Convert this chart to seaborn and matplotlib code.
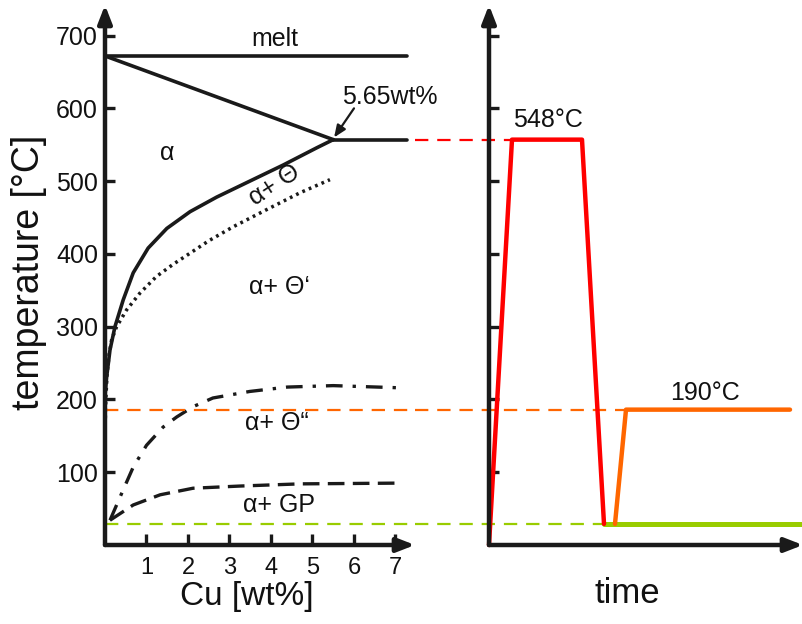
import matplotlib
matplotlib.use("Agg")
import matplotlib.pyplot as plt
import seaborn as sns

# ---------------- data ----------------
temp_ticks = [100, 200, 300, 400, 500, 600, 700]
cu_ticks = [1, 2, 3, 4, 5, 6, 7]

melt_cu = [0.0, 7.27]
melt_T = [672, 672]
solidus_cu = [0.0, 5.5]
solidus_T = [672, 557]
eutectic_cu = [5.5, 7.27]
eutectic_T = [557, 557]

solvus_cu = [0.0, 0.04, 0.12, 0.24, 0.44, 0.68, 1.04, 1.49, 2.05, 2.69, 3.49, 4.29, 5.11, 5.5]
solvus_T = [205, 231, 268, 300, 337, 374, 408, 435, 458, 478, 500, 522, 546, 557]

theta1_cu = [0.0, 0.02, 0.05, 0.1, 0.16, 0.28, 0.52, 0.84, 1.24, 1.65, 2.05, 2.5, 3.08, 3.9, 4.7, 5.42]
theta1_T = [155, 200, 235, 262, 282, 300, 323, 346, 369, 386, 401, 418, 437, 461, 484, 502]

theta2_cu = [0.12, 0.44, 0.68, 1.0, 1.4, 1.73, 2.12, 2.6, 3.49, 4.39, 5.5, 7.1]
theta2_T = [34, 76, 107, 137, 162, 176, 190, 202, 211, 217, 219, 216]

gp_cu = [0.12, 0.68, 1.33, 2.12, 3.25, 4.7, 7.0]
gp_T = [34, 55, 69, 78, 81, 84, 85]

# heat treatment (time in arbitrary units)
solution_t = [0.0, 2.3, 9.3, 11.5]
solution_T = [0, 557, 557, 29]
room_t = [11.5, 31.3]
room_T = [29, 29]
aging_t = [12.6, 13.7, 30.1]
aging_T = [29, 186, 186]

T_solution = 557
T_aging = 186
T_room = 29

RED = "#ff0000"
ORANGE = "#ff6600"
GREEN = "#99cc00"

# ---------------- style ----------------
sns.set_theme(style="white")
plt.rcParams["font.family"] = ["Liberation Sans", "DejaVu Sans"]

fig = plt.figure(figsize=(8.03, 6.24), dpi=100)
W, H = 803, 624
bottom_px, top_px = 545, 5
ax1 = fig.add_axes([105 / W, (H - bottom_px) / H, (415 - 105) / W, (bottom_px - top_px) / H])
ax2 = fig.add_axes([489 / W, (H - bottom_px) / H, (803 - 489) / W, (bottom_px - top_px) / H])

for ax in (ax1, ax2):
    ax.set_facecolor("none")
    ax.set_ylim(0, 742)
    for s in ax.spines.values():
        s.set_visible(False)
    ax.grid(False)

ax1.set_xlim(0, 7.47)
ax2.set_xlim(0, 31.4)

# axes arrows
arrow_kw = dict(arrowstyle="-|>,head_length=0.9,head_width=0.35", lw=3.2,
                color="k", shrinkA=0, shrinkB=0)
for ax in (ax1, ax2):
    ax.annotate("", xy=(0, 1), xytext=(0, 0), xycoords="axes fraction",
                arrowprops=arrow_kw, annotation_clip=False)
    ax.annotate("", xy=(1, 0), xytext=(0, 0), xycoords="axes fraction",
                arrowprops=arrow_kw, annotation_clip=False)

# ticks
ax1.set_yticks(temp_ticks)
ax1.set_yticklabels([str(v) for v in temp_ticks])
ax1.set_xticks(cu_ticks)
ax1.set_xticklabels([str(v) for v in cu_ticks])
ax1.tick_params(axis="y", direction="in", length=7, width=2.4, labelsize=18,
                pad=5, left=True, colors="k", labelcolor="#111111")
ax1.tick_params(axis="x", direction="in", length=8, width=2.4, labelsize=17,
                pad=9, bottom=True, colors="k", labelcolor="#111111")

ax2.set_yticks(temp_ticks)
ax2.set_yticklabels([])
ax2.set_xticks([])
ax2.tick_params(axis="y", direction="in", length=7, width=2.4, left=True, colors="k")

# ---------------- phase diagram ----------------
def draw(ax, x, y, **kw):
    sns.lineplot(x=x, y=y, ax=ax, sort=False, estimator=None, **kw)

draw(ax1, melt_cu, melt_T, color="k", lw=2.6)
draw(ax1, solidus_cu, solidus_T, color="k", lw=2.6)
draw(ax1, eutectic_cu, eutectic_T, color="k", lw=2.6)
draw(ax1, solvus_cu, solvus_T, color="k", lw=2.6)
draw(ax1, theta1_cu, theta1_T, color="k", lw=2.5, linestyle=(0, (0.8, 1.2)))
draw(ax1, theta2_cu, theta2_T, color="k", lw=2.4, linestyle=(0, (5, 3, 1, 3)))
draw(ax1, gp_cu, gp_T, color="k", lw=2.4, linestyle=(0, (5, 2.5)))

txt_kw = dict(fontsize=18, color="#111111", ha="center", va="center")
ax1.text(4.1, 695, "melt", **txt_kw)
ax1.text(6.87, 615, "5.65wt%", **txt_kw)
ax1.annotate("", xy=(5.52, 560), xytext=(6.0, 600),
             arrowprops=dict(arrowstyle="-|>,head_length=0.6,head_width=0.25",
                             lw=1.6, color="k", shrinkA=0, shrinkB=0))
ax1.text(1.49, 539, "α", **txt_kw)
ax1.text(4.08, 495, "α+ Θ", rotation=33, rotation_mode="anchor", **txt_kw)
ax1.text(4.2, 355, "α+ Θ‘", **txt_kw)
ax1.text(4.14, 168, "α+ Θ“", **txt_kw)
ax1.text(4.2, 55, "α+ GP", **txt_kw)

ax1.text(0.458, -0.096, "Cu [wt%]", transform=ax1.transAxes, fontsize=24,
         ha="center", va="center", color="#111111")
ax1.text(-0.245, 0.505, "temperature [°C]", transform=ax1.transAxes, fontsize=27,
         rotation=90, ha="center", va="center", color="#111111")

# ---------------- heat treatment ----------------
dash = (0, (6, 4))
ax1.plot([0, 7.47], [T_aging, T_aging], color=ORANGE, lw=1.6, linestyle=dash)
ax1.plot([0, 7.47], [T_room, T_room], color=GREEN, lw=1.6, linestyle=dash)
ax2.plot([-7.4, 13.7], [T_aging, T_aging], color=ORANGE, lw=1.6, linestyle=dash, clip_on=False)
ax2.plot([-7.4, 11.5], [T_room, T_room], color=GREEN, lw=1.6, linestyle=dash, clip_on=False)
ax2.plot([-7.4, 2.3], [T_solution, T_solution], color=RED, lw=1.6, linestyle=dash, clip_on=False)

draw(ax2, room_t, room_T, color=GREEN, lw=3.6)
draw(ax2, aging_t, aging_T, color=ORANGE, lw=3.2)
draw(ax2, solution_t, solution_T, color=RED, lw=3.2)
for ln in ax2.get_lines():
    ln.set_clip_on(False)

ax2.text(5.9, 584, "548°C", **txt_kw)
ax2.text(21.6, 209, "190°C", **txt_kw)
ax2.text(0.44, -0.09, "time", transform=ax2.transAxes, fontsize=25,
         ha="center", va="center", color="#111111")

for ax in (ax1, ax2):
    ax.set_xlabel("")
    ax.set_ylabel("")
    if ax.get_legend():
        ax.get_legend().remove()

fig.savefig("out.png", dpi=100)
